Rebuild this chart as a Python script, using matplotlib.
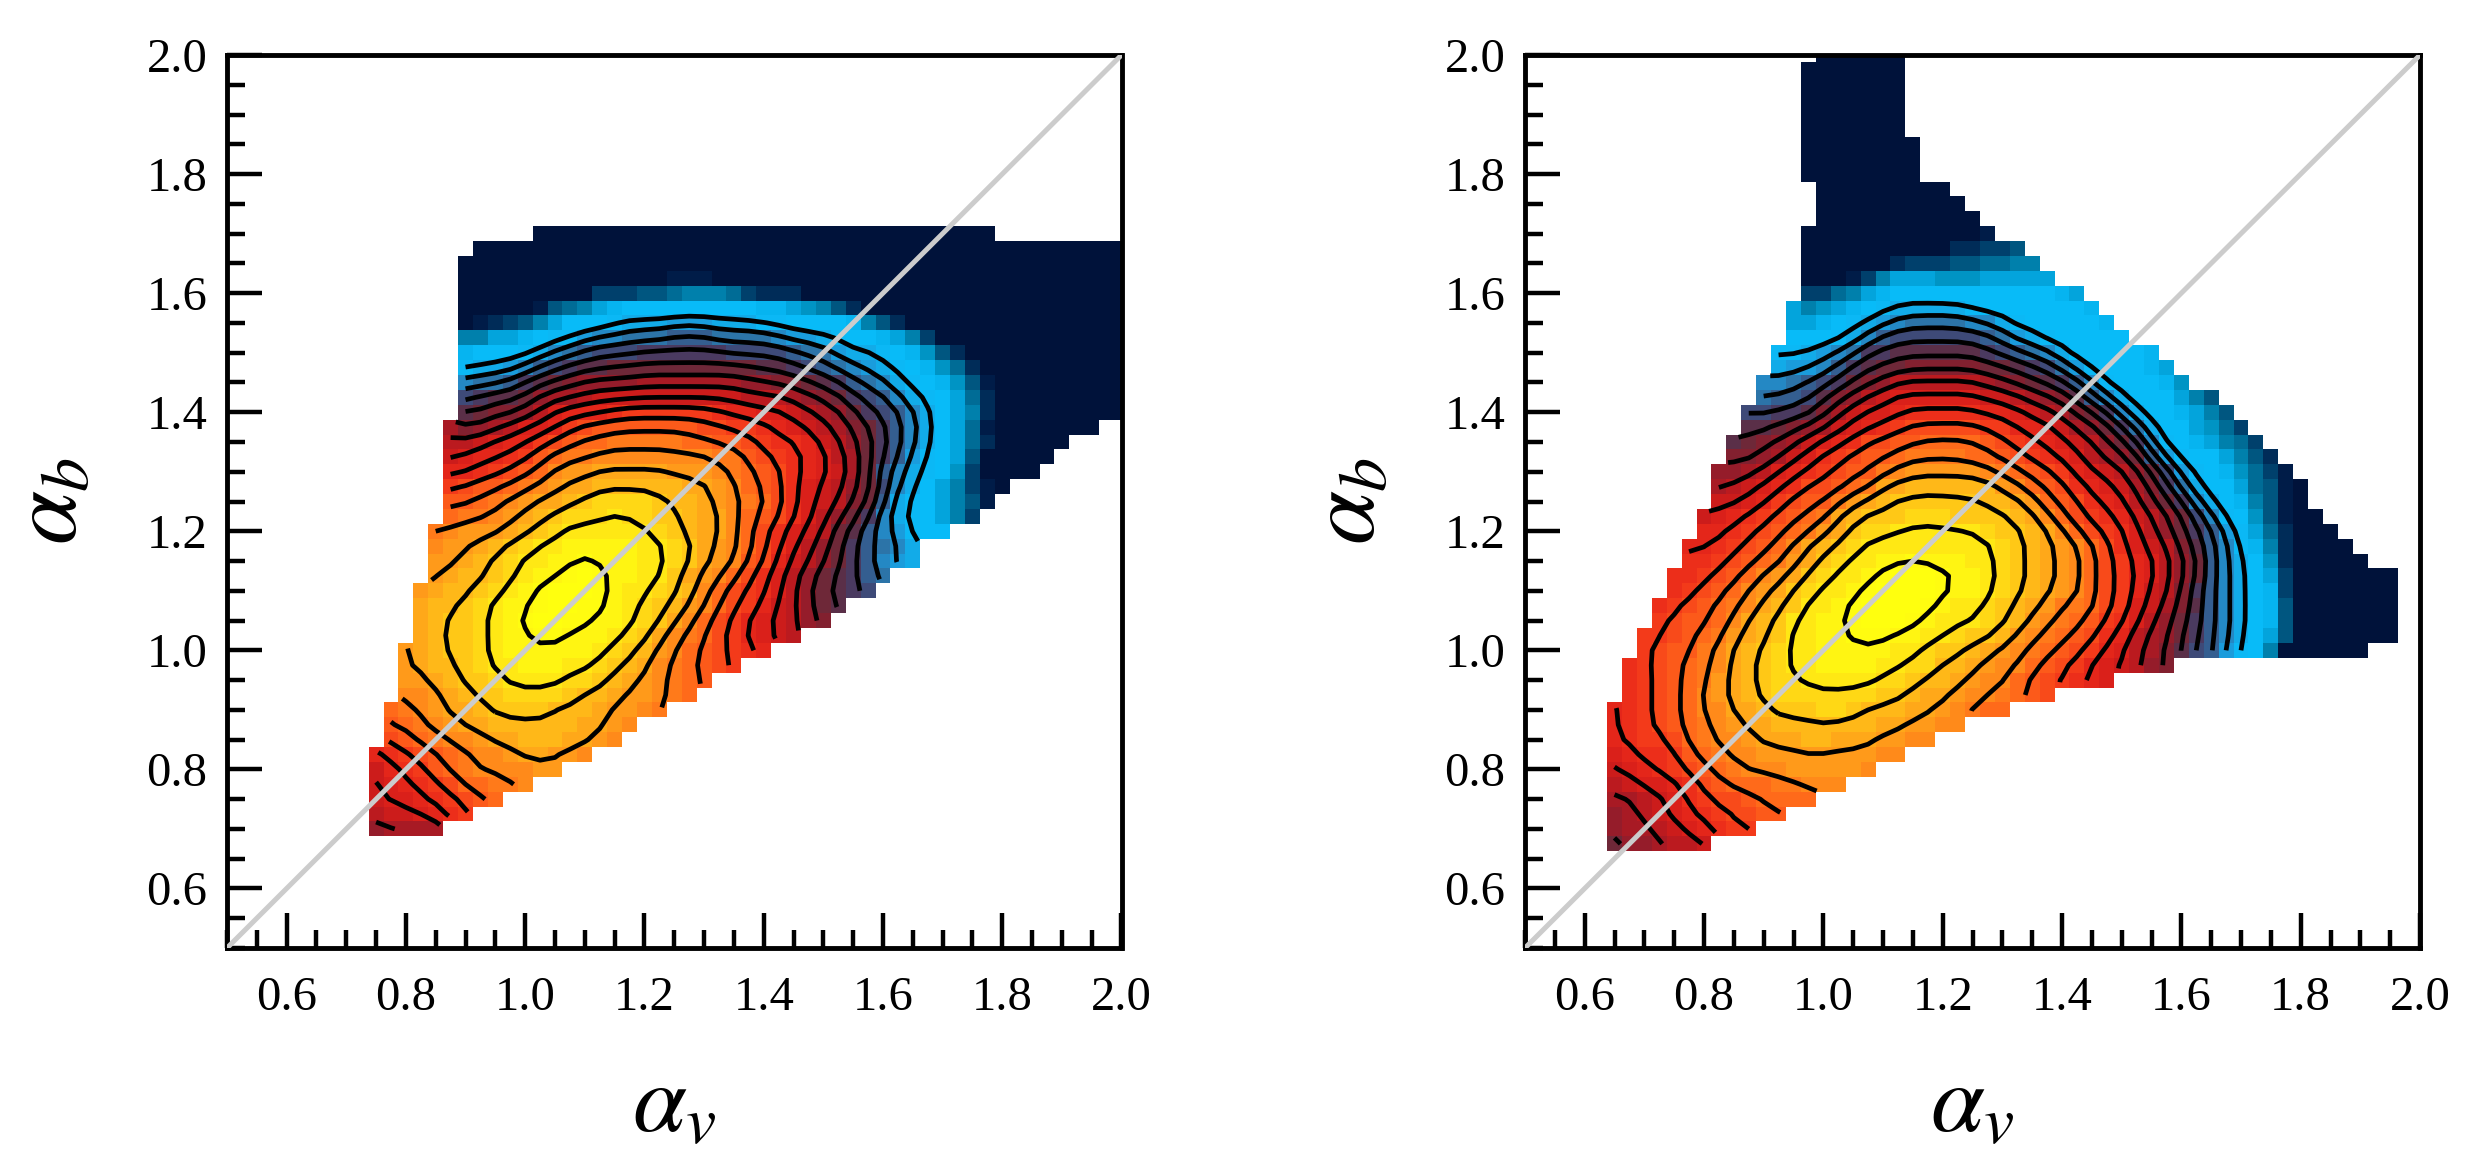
import numpy as np
import matplotlib
matplotlib.use('Agg')
import matplotlib.pyplot as plt
from matplotlib.colors import ListedColormap, Normalize
from matplotlib.ticker import MultipleLocator

plt.rcParams['font.family'] = ['Liberation Serif', 'DejaVu Serif']
plt.rcParams['mathtext.fontset'] = 'stix'

# one character per cell: 0 = peak ... H = far tail
codes = '0123456789abcdefghijklmnopqrstuvwxyzABCDEFGH'
colours = ['#ffff0e', '#fffc10', '#fff512', '#ffe814', '#ffd815', '#ffc816',
           '#ffb818', '#ffa819', '#ff9a1a', '#ff8a1a', '#ff7a1a', '#ff6a1a',
           '#fc5a1a', '#f84a1a', '#f33a1a', '#ec2e1a', '#e4261a', '#da201a',
           '#cc1c1b', '#bb1a1f', '#a81a24', '#951c2a', '#82202f', '#6e2838',
           '#5a2f48', '#4a3a60', '#3e4a78', '#345e90', '#2c74a8', '#2488c4',
           '#1a9cdc', '#12abe8', '#0bb8f5', '#08bbf8', '#06b4f0', '#03a4dc',
           '#0094c4', '#0080ac', '#006c96', '#005680', '#00406c', '#002c58',
           '#001c48', '#00123a']

# left panel: cell size 0.025, lower corner of the first cell
left_x0 = 0.7375
left_y0 = 0.6875
left_ncols = 51
left_first = [0, 0, 0, 0, 0, 0, 1, 1, 1, 2, 2, 2, 2, 3, 3, 3, 3, 4, 4, 4, 4,
              5, 5, 5, 5, 5, 5, 5, 6, 6, 6, 6, 6, 6, 6, 6, 6, 6, 6, 7, 11]
left_rows = [
    'lkkkk',
    'jiihgfe',
    'ihhgfedcb',
    'ihgfedbbaa9',
    'igfecba999988',
    'gfedcba99877889',
    'dcba998776667789',
    'cba98776666667789',
    'ba9877655556667889a',
    '998765544445667889ab',
    '887655433334456789abc',
    '876654332223345679abcde',
    '8765543222222345689bcdefg',
    '765543221122234579abdeghij',
    '7655432100112234579bdeghijlm',
    '76654322100112345689bdegijlno',
    '87665432100012334569bdefhjlnopq',
    '87665432210122335789bdfhjlnoprs',
    '887654332212223345789cdgijlnprtuv',
    '988765433222223345789bdfhjlnprstv',
    'a98887654333333456779bdfhijnortuwxx',
    'baa98765444344556779bcdfhjlnptvwxzBE',
    'ccba9877654444566789abdfhijmnrvwxzBDG',
    'edccba98776666667789bcdfhijlnqtvxzBEGH',
    'ggfedcb98877777888' + '9abcdfghiknrtvwxAEHHHH',
    'ihggfecbaa99999999aacdefghjknpruwxzDHHHHH',
    'jjihggedcbbaaaaabbccdeffgijlnprtvxzCFHHHHH',
    'kmlkjhhgedcccccccddeefghijkmnprtvxzCG' + 'H' * 7,
    'onmmljhgggfeeeeeefgghhijklnpqrtvxzBF' + 'H' * 9,
    'qpoonlkkjiiiiiiiiiijjjklmnpqrtvwxzCF' + 'H' * 9,
    'tssrponmllllkkkkkkkllmmnoprstvwxyADG' + 'H' * 9,
    'wvvutrqpoo' + 'n' * 10 + 'oopqrstuvwxyACF' + 'H' * 10,
    'yxxxwvtsrqqqppppppqqqqrssuvvwxyADF' + 'H' * 11,
    'BBzzyxwwuttsssrrrsssstuuvwxxyzBE' + 'H' * 13,
    'HGFEDBzxxxwvvvuuuvvvwwxxxxyBDF' + 'H' * 15,
    'HHHHHGDCBzy' + 'x' * 9 + 'yyzABDF' + 'H' * 18,
    'H' * 9 + 'EEEDDCBBBCEFFF' + 'H' * 22,
    'H' * 14 + 'GGG' + 'H' * 28,
    'H' * 45,
    'H' * 44,
    'H' * 31,
]

# right panel
right_x0 = 0.6375
right_y0 = 0.6625
right_ncols = 53
right_first = [0, 0, 0, 0, 0, 0, 0, 0, 0, 0, 1, 1, 1, 2, 2, 3, 3, 4, 4, 5, 5,
               6, 6, 7, 7, 7, 8, 8, 9, 9, 10, 10, 11, 11, 12, 12, 12, 13, 13,
               13, 13, 13, 14, 14, 14, 13, 13, 13, 13, 13, 13, 13, 13, 14]
right_rows = [
    'nllkjji',
    'lkkjihgfee',
    'lkjihgfeddcc',
    'kkjihfeddcbbbb',
    'jihhgfdcbbbaa999',
    'ihgfedcba999888889',
    'hgffecba998888888899',
    'gfeedba998777667778899',
    'gfedcba98776666666778899',
    'gfedcb997765554456667789abb',
    'fedcb98765444444455677899abcd',
    'fedcba87654433333445667899bcdefgh',
    'fedcba976543322223344667899bcdeghijlm',
    'edcca976543322222334556789abcdeghjkmoqruwxB' + 'H' * 6,
    'eedcba876533221112233455689abcdfgjklnprtvxzD' + 'H' * 7,
    'edccb9765332210001233345689abcefhjlnprtvxyD' + 'H' * 7,
    'fedcba976533210000123345678aabdehikmortvxyD' + 'H' * 7,
    'fedcb98754332100001223456789bdegijmprtvxyE' + 'H' * 7,
    'ffedcb9875433210001223456789bdeghjlnrtvxzE' + 'H' * 7,
    'ffedcba87543322122233456789bdeghjlnrtvxAF' + 'H' * 5,
    'ggfedcb97654333333333456789bdfhijmortwyBF' + 'H' * 4,
    'ggfedcba87544333333455679bdefhjlnpruwzCF' + 'H' * 3,
    'ihgfedcba765554445555679bdefgijlnqtwxADGHH',
    'iihgedcca8765555556678bcdfghjlnptvxyBDGH',
    'kjihgfddcba7766666689bcdfghikmpsvxxzCDGH',
    'llkjhgfedcca9888889abcdeghijlnquwxyACEG',
    'mmlkihfedccbaaaabbcdefghjklnruwxxzBDF',
    'onmlkihgfddccbbbbcdefghijlnptwxyzBCE',
    'oonmlkihgfedddddeegghiklnpsvxxzACE',
    'qqppomkihhgfffffgghijkmnptvxxyzBD',
    'srrqomljihhhhhhiijklmortvxxxzBD',
    'ttsrqpnmljjjjjjklmnoprtwxxxyA',
    'vuutrponnmmmmmnnopqsuwxxxyz',
    'wwvutsppoooooopqrstvxxxxxy',
    'xxxwvtrqqqqqqrsuvwxxxxx',
    'zzyxwvutssssttvwxxxxxy',
    'zBAzyxwvvvvvw' + 'x' * 7 + 'y',
    'EECBzy' + 'x' * 11 + 'yz',
    'HHHGEBzzzAAAzzzzz',
    'H' * 6 + 'FEEEDDCCBB',
    'H' * 10 + 'FFEED',
    'H' * 12 + 'G',
    'H' * 11,
    'H' * 10,
    'H' * 9,
    'H' * 8,
    'H' * 8,
    'H' * 8,
    'H' * 7,
    'H' * 7,
    'H' * 7,
    'H' * 7,
    'H' * 7,
    'H' * 6,
]

tick_labels = ['0.6', '0.8', '1.0', '1.2', '1.4', '1.6', '1.8', '2.0']
major_ticks = [0.6, 0.8, 1.0, 1.2, 1.4, 1.6, 1.8, 2.0]
contour_levels = [1.5, 3.5, 5.5, 7.5, 9.5, 11.5, 13.5, 15.5, 17.5, 19.5, 21.5,
                  23.5, 25.5, 27.5, 29.5, 31.5]
cell = 0.025


def make_grid(first, rows, ncols):
    grid = np.full((len(rows), ncols), np.nan)
    for j, row in enumerate(rows):
        for k, ch in enumerate(row):
            grid[j, first[j] + k] = codes.index(ch)
    return grid


def soften(grid):
    # light 3x3 blur of the valid cells, only for the contour lines
    w = np.array([1.0, 2.0, 1.0])
    kernel = np.outer(w, w)
    ny, nx = grid.shape
    out = np.full(grid.shape, np.nan)
    for j in range(ny):
        for i in range(nx):
            if np.isnan(grid[j, i]):
                continue
            total = 0.0
            weight = 0.0
            for dj in (-1, 0, 1):
                for di in (-1, 0, 1):
                    jj, ii = j + dj, i + di
                    if 0 <= jj < ny and 0 <= ii < nx and not np.isnan(grid[jj, ii]):
                        total += kernel[dj + 1, di + 1] * grid[jj, ii]
                        weight += kernel[dj + 1, di + 1]
            out[j, i] = total / weight
    return out


cmap = ListedColormap(colours)
norm = Normalize(-0.5, len(colours) - 0.5)


def draw_panel(ax, x0, y0, first, rows, ncols):
    grid = make_grid(first, rows, ncols)
    x_edges = x0 + cell * np.arange(ncols + 1)
    y_edges = y0 + cell * np.arange(len(rows) + 1)
    ax.pcolormesh(x_edges, y_edges, np.ma.masked_invalid(grid), cmap=cmap,
                  norm=norm, shading='flat', antialiased=False, zorder=1)
    x_mid = x_edges[:-1] + cell / 2
    y_mid = y_edges[:-1] + cell / 2
    ax.contour(x_mid, y_mid, np.ma.masked_invalid(soften(grid)),
               levels=contour_levels, colors='black', linewidths=3.4,
               linestyles='solid', zorder=2)
    ax.plot([0.5, 2.0], [0.5, 2.0], color='#cccccc', lw=3.6, zorder=3)
    ax.set_xlim(0.5, 2.0)
    ax.set_ylim(0.5, 2.0)
    ax.set_xticks(major_ticks)
    ax.set_xticklabels(tick_labels)
    ax.set_yticks(major_ticks)
    ax.set_yticklabels(tick_labels)
    ax.xaxis.set_minor_locator(MultipleLocator(0.05))
    ax.yaxis.set_minor_locator(MultipleLocator(0.05))
    ax.tick_params(which='major', direction='in', length=25, width=3.2,
                   labelsize=35, top=False, right=False)
    ax.tick_params(which='minor', direction='in', length=13, width=3.2,
                   top=False, right=False)
    ax.tick_params(axis='x', which='major', pad=20)
    ax.tick_params(axis='y', which='major', pad=14)
    for side in ax.spines.values():
        side.set_linewidth(3.5)
    ax.set_xlabel(r'$\alpha_v$', fontsize=70)
    ax.set_ylabel(r'$\alpha_b$', fontsize=70)
    ax.xaxis.set_label_coords(0.5, -0.13)
    ax.yaxis.set_label_coords(-0.145, 0.5)


W, H = 2471, 1167
fig = plt.figure(figsize=(W / 100, H / 100), dpi=100)
ax1 = fig.add_axes([227 / W, (H - 948) / H, 894.5 / W, 893 / H])
ax2 = fig.add_axes([1525 / W, (H - 948) / H, 895 / W, 893 / H])
draw_panel(ax1, left_x0, left_y0, left_first, left_rows, left_ncols)
draw_panel(ax2, right_x0, right_y0, right_first, right_rows, right_ncols)

fig.savefig('out.png', dpi=100)
